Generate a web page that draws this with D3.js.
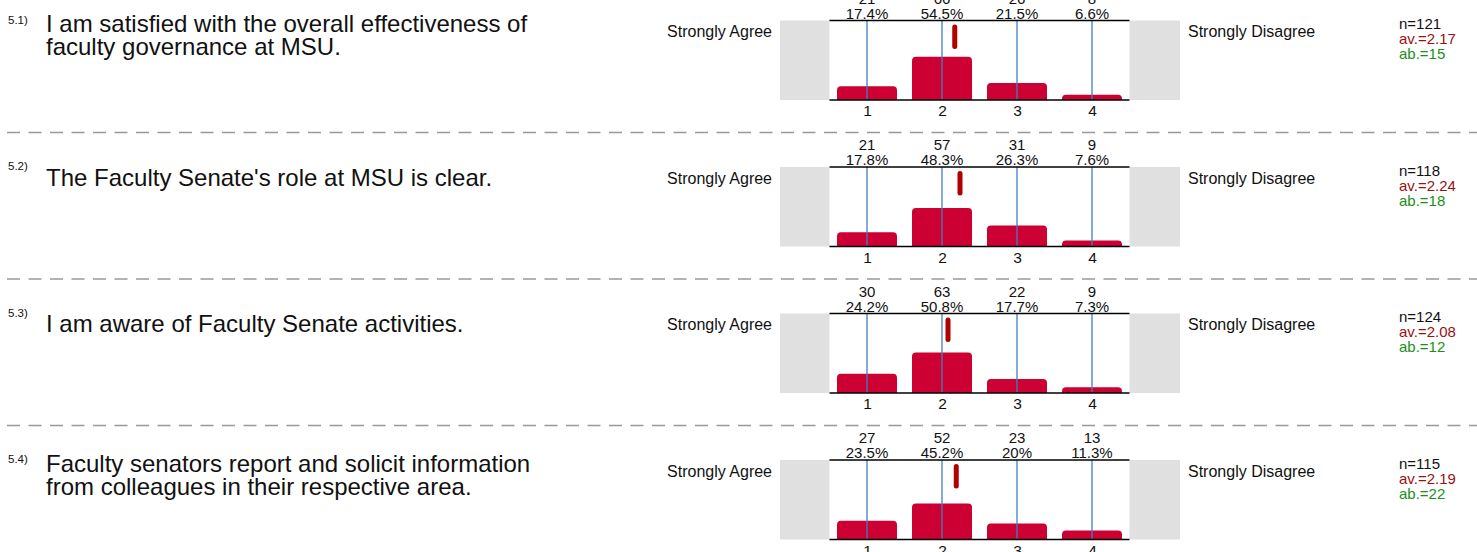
<!DOCTYPE html>
<html>
<head>
    <meta charset="utf-8">
    <title>Faculty Governance Survey</title>
    <script src="https://cdnjs.cloudflare.com/ajax/libs/d3/7.8.5/d3.min.js"></script>
    <style>
        body {
            margin: 0;
            background: #fff;
            font-family: Arial, "Liberation Sans", sans-serif;
        }
        svg text {
            font-family: Arial, "Liberation Sans", sans-serif;
        }
    </style>
</head>
<body>
    <div id="chart"></div>

    <script>
        // Survey data, one entry per question
        const questionIds = ["5.1)", "5.2)", "5.3)", "5.4)"];
        const questionTexts = [
            ["I am satisfied with the overall effectiveness of", "faculty governance at MSU."],
            ["The Faculty Senate's role at MSU is clear."],
            ["I am aware of Faculty Senate activities."],
            ["Faculty senators report and solicit information", "from colleagues in their respective area."]
        ];
        const scaleTicks = [1, 2, 3, 4];
        const counts = [
            [21, 66, 26, 8],
            [21, 57, 31, 9],
            [30, 63, 22, 9],
            [27, 52, 23, 13]
        ];
        const percents = [
            [17.4, 54.5, 21.5, 6.6],
            [17.8, 48.3, 26.3, 7.6],
            [24.2, 50.8, 17.7, 7.3],
            [23.5, 45.2, 20, 11.3]
        ];
        const nValues = [121, 118, 124, 115];
        const means = [2.17, 2.24, 2.08, 2.19];
        const abstentions = [15, 18, 12, 22];
        const leftLabel = "Strongly Agree";
        const rightLabel = "Strongly Disagree";

        const W = 1477, H = 552;
        const rowStep = 146.5;
        const firstTop = 20.5;
        const boxH = 79.5;

        const svg = d3.select("#chart")
            .append("svg")
            .attr("width", W)
            .attr("height", H);

        // x scale shared by every row
        const x = d3.scaleLinear()
            .domain([0.5, 4.5])
            .range([829.5, 1129.5]);
        const band = x(1.5) - x(0.5);
        const barW = band * 0.8;

        const y = d3.scaleLinear()
            .domain([0, 100])
            .range([boxH, 0]);

        function topRoundedBar(x0, y0, w, h, r) {
            r = Math.min(r, h, w / 2);
            return `M${x0},${y0 + h}V${y0 + r}Q${x0},${y0} ${x0 + r},${y0}` +
                `H${x0 + w - r}Q${x0 + w},${y0} ${x0 + w},${y0 + r}V${y0 + h}Z`;
        }

        questionIds.forEach((qid, i) => {
            const top = firstTop + i * rowStep;
            const g = svg.append("g").attr("transform", `translate(0,${top})`);

            // question number and text
            const lines = questionTexts[i];
            const firstBase = lines.length > 1 ? 11.5 : 18.5;
            g.append("text")
                .attr("x", 8)
                .attr("y", 3)
                .attr("font-size", 11.5)
                .attr("fill", "#111")
                .text(qid);
            lines.forEach((line, k) => {
                g.append("text")
                    .attr("x", 46)
                    .attr("y", firstBase + k * 23)
                    .attr("font-size", 24)
                    .attr("fill", "#111")
                    .text(line);
            });

            // grey end caps
            g.append("rect")
                .attr("x", 780).attr("y", 0)
                .attr("width", x.range()[0] - 780).attr("height", boxH)
                .attr("fill", "#e0e0e0");
            g.append("rect")
                .attr("x", x.range()[1]).attr("y", 0)
                .attr("width", 1180 - x.range()[1]).attr("height", boxH)
                .attr("fill", "#e0e0e0");

            g.append("text")
                .attr("x", 772).attr("y", 16.5)
                .attr("text-anchor", "end")
                .attr("font-size", 16)
                .attr("fill", "#111")
                .text(leftLabel);
            g.append("text")
                .attr("x", 1188).attr("y", 16.5)
                .attr("font-size", 16)
                .attr("fill", "#111")
                .text(rightLabel);

            // bars
            g.selectAll("path.bar")
                .data(percents[i])
                .enter()
                .append("path")
                .attr("class", "bar")
                .attr("d", (d, j) => topRoundedBar(x(scaleTicks[j]) - barW / 2, y(d), barW, boxH - y(d), 4))
                .attr("fill", "#cc0033");

            // blue category lines
            g.selectAll("line.cat")
                .data(scaleTicks)
                .enter()
                .append("line")
                .attr("class", "cat")
                .attr("x1", d => x(d)).attr("x2", d => x(d))
                .attr("y1", 0).attr("y2", boxH)
                .attr("stroke", "#3f7fc4")
                .attr("stroke-width", 1.3);

            // top and bottom rules
            [0, boxH].forEach(yy => {
                g.append("line")
                    .attr("x1", x.range()[0]).attr("x2", x.range()[1])
                    .attr("y1", yy).attr("y2", yy)
                    .attr("stroke", "#000")
                    .attr("stroke-width", 1.5);
            });

            // counts and percents above
            g.selectAll("text.cnt")
                .data(counts[i])
                .enter()
                .append("text")
                .attr("class", "cnt")
                .attr("x", (d, j) => x(scaleTicks[j]))
                .attr("y", -17)
                .attr("text-anchor", "middle")
                .attr("font-size", 15)
                .attr("fill", "#111")
                .text(d => d);
            g.selectAll("text.pct")
                .data(percents[i])
                .enter()
                .append("text")
                .attr("class", "pct")
                .attr("x", (d, j) => x(scaleTicks[j]))
                .attr("y", -2)
                .attr("text-anchor", "middle")
                .attr("font-size", 15)
                .attr("fill", "#111")
                .text(d => d + "%");

            // bottom axis labels
            const axis = d3.axisBottom(x)
                .tickValues(scaleTicks)
                .tickFormat(d3.format("d"))
                .tickSize(0)
                .tickPadding(5);
            const ax = g.append("g")
                .attr("transform", `translate(0,${boxH})`)
                .call(axis);
            ax.select(".domain").remove();
            ax.selectAll("text")
                .attr("font-size", 15.5)
                .attr("fill", "#111");

            // mean marker
            g.append("line")
                .attr("x1", x(means[i])).attr("x2", x(means[i]))
                .attr("y1", 6.5).attr("y2", 26)
                .attr("stroke", "#b00000")
                .attr("stroke-width", 5)
                .attr("stroke-linecap", "round");

            // stats
            g.append("text").attr("x", 1399).attr("y", 8.5)
                .attr("font-size", 15).attr("fill", "#111")
                .text("n=" + nValues[i]);
            g.append("text").attr("x", 1399).attr("y", 23.5)
                .attr("font-size", 15).attr("fill", "#9b1111")
                .text("av.=" + means[i].toFixed(2));
            g.append("text").attr("x", 1399).attr("y", 38.5)
                .attr("font-size", 15).attr("fill", "#1a8f1a")
                .text("ab.=" + abstentions[i]);

            // dashed separator
            if (i < questionIds.length - 1) {
                g.append("line")
                    .attr("x1", 7).attr("x2", W)
                    .attr("y1", 112).attr("y2", 112)
                    .attr("stroke", "#999")
                    .attr("stroke-width", 1.4)
                    .attr("stroke-dasharray", "13,8.5");
            }
        });
    </script>
</body>
</html>
